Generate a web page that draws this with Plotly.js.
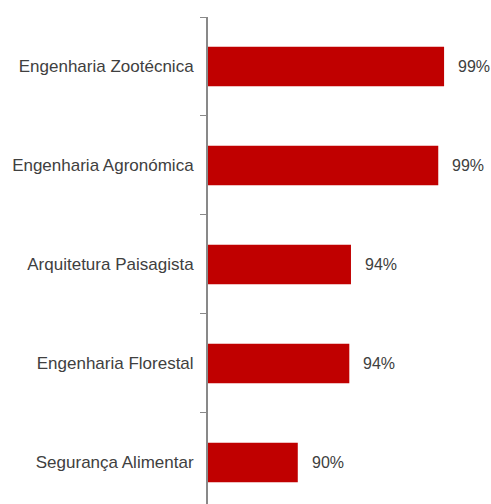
<!DOCTYPE html>
<html>
<head>
<meta charset="utf-8">
<script src="https://cdn.plot.ly/plotly-3.0.1.min.js"></script>
<style>html,body{margin:0;padding:0;background:#fff;}#chart{width:491px;height:504px;}</style>
</head>
<body>
<div id="chart"></div>
<script>
const categories = ["Engenharia Zootécnica", "Engenharia Agronómica", "Arquitetura Paisagista", "Engenharia Florestal", "Segurança Alimentar"];
const values = [99.2, 98.85, 93.6, 93.5, 90.4];

const trace = {
  type: 'bar',
  orientation: 'h',
  y: categories,
  x: values,
  width: 0.4,
  marker: {color: '#C00000', line: {width: 0}},
  hoverinfo: 'none'
};

const annotations = categories.map((c, i) => ({
  x: values[i], y: c, xref: 'x', yref: 'y',
  text: Math.round(values[i]) + '%',
  showarrow: false, xanchor: 'left', yanchor: 'middle', xshift: 12,
  font: {family: '"Liberation Sans", Arial, sans-serif', size: 16, color: '#404040'}
}));

const layout = {
  width: 491, height: 504,
  margin: {l: 208, r: 17, t: 17, b: 0, pad: 0},
  paper_bgcolor: '#fff', plot_bgcolor: '#fff',
  showlegend: false,
  font: {family: '"Liberation Sans", Arial, sans-serif', size: 17, color: '#404040'},
  xaxis: {range: [85, 101], visible: false, fixedrange: true},
  yaxis: {
    type: 'category',
    range: [4.42, -0.5],
    showline: true, linecolor: '#898989', linewidth: 2,
    ticks: 'outside', tickson: 'boundaries', ticklen: 6, tickcolor: '#898989', tickwidth: 1,
    showgrid: false, zeroline: false,
    ticklabelstandoff: 9,
    tickfont: {family: '"Liberation Sans", Arial, sans-serif', size: 17, color: '#404040'}
  },
  annotations: annotations
};

Plotly.newPlot('chart', [trace], layout, {displayModeBar: false, staticPlot: true});
</script>
</body>
</html>
